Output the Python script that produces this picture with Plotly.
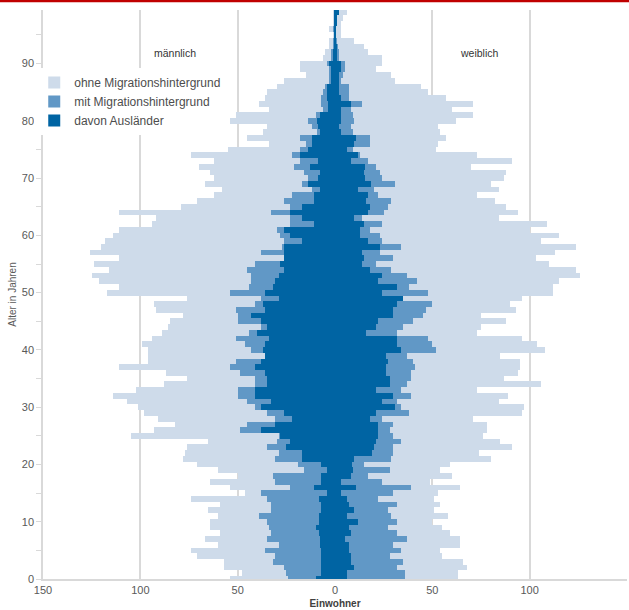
import plotly.graph_objects as go

# ---- data ----
alter = list(range(100))

# Männer: total extent (ohne + mit), mit Migrationshintergrund, davon Ausländer
m_gesamt = [54, 48, 57, 57, 71, 74, 60, 67, 59, 64,
            64, 60, 65, 59, 74, 46, 54, 64, 50, 60,
            71, 78, 77, 76, 65, 105, 93, 82, 91, 98,
            101, 107, 114, 102, 88, 76, 87, 111, 96, 96,
            96, 99, 94, 89, 86, 85, 78, 92, 93, 76,
            117, 111, 121, 125, 116, 124, 111, 126, 120, 118,
            114, 111, 94, 92, 111, 79, 71, 62, 58, 67,
            62, 64, 70, 62, 74, 55, 34, 45, 37, 35,
            54, 51, 34, 39, 36, 35, 30, 26, 15, 18,
            18, 6, 5, 3, 3, 1, 3, 1, 1, 1]
m_mit = [24, 25, 26, 32, 31, 36, 29, 35, 33, 34,
         35, 39, 33, 33, 35, 38, 23, 31, 32, 16,
         19, 31, 29, 35, 30, 29, 49, 45, 31, 35,
         41, 45, 50, 50, 41, 41, 49, 54, 51, 36,
         43, 46, 51, 44, 38, 50, 50, 51, 41, 38,
         54, 44, 43, 43, 45, 41, 26, 38, 27, 26,
         28, 30, 23, 23, 33, 23, 26, 22, 12, 17,
         14, 16, 21, 18, 22, 18, 15, 18, 9, 12,
         14, 10, 6, 7, 7, 6, 5, 3, 3, 3,
         4, 2, 2, 1, 1, 0.5, 1, 0.5, 0.5, 0.5]
m_ausl = [10, 7, 7, 7, 7, 7, 7.5, 7.5, 8, 10,
          8, 8, 7, 7, 8, 4, 11, 7, 7, 4,
          7, 17, 17, 25, 23, 28, 38, 31, 22, 26,
          38, 33, 41, 41, 35, 35, 36, 41, 38, 36,
          37, 36, 34, 40, 35, 38, 43, 36, 37, 29,
          36, 32, 31, 29, 26, 28, 26, 26, 26, 17,
          23, 26, 11, 17, 23, 17, 11, 11, 7.5, 14,
          8.5, 7.5, 12.7, 8.5, 18, 14, 12, 12, 7.5, 8.5,
          9.5, 7.5, 3.7, 3.7, 4, 4, 4, 2, 2, 2,
          3, 1, 1, 0.5, 0.5, 0.3, 0.5, 0.5, 0.5, 0.5]

# Frauen
w_gesamt = [63, 63, 68, 66, 55, 54, 64, 64, 59, 55,
            50, 58, 51, 54, 51, 53, 64, 49, 60, 54,
            59, 80, 74, 91, 85, 76, 78, 78, 71, 96,
            97, 84, 89, 73, 106, 87, 94, 95, 95, 85,
            108, 104, 96, 73, 75, 88, 75, 93, 90, 96,
            112, 112, 115, 126, 124, 110, 103, 113, 124, 106,
            115, 100, 109, 84, 94, 88, 82, 73, 84, 80,
            87, 88, 70, 91, 73, 52, 53, 57, 54, 53,
            62, 71, 60, 71, 57, 48, 44, 31, 29, 21,
            24, 24, 17, 15, 10, 3, 3, 3, 4, 6]
w_mit = [36, 36, 32, 35, 28, 34, 30, 37, 32, 27,
         32, 29, 27, 32, 22, 30, 39, 24, 17, 28,
         15, 29, 30, 30, 34, 30, 28, 30, 24, 38,
         34, 32, 39, 34, 37, 39, 39, 41, 40, 37,
         52, 50, 48, 32, 35, 40, 45, 47, 50, 34,
         48, 38, 42, 37, 29, 21, 30, 23, 34, 24,
         23, 18, 24, 14, 25, 27, 29, 22, 20, 31,
         24, 23, 21, 17, 13, 9, 18, 18, 9, 8,
         10, 9, 8, 14, 7, 7, 7, 3, 4, 5,
         5, 2, 2, 1.5, 1, 0.5, 0.5, 1, 1, 2]
w_ausl = [6, 6, 10, 8, 8, 7, 7, 5, 8, 7,
          12, 6, 10, 7, 6, 3, 11, 3, 8, 9,
          8.5, 10, 19, 20, 21, 22, 22, 22, 18, 21,
          31, 24, 30, 21, 28, 28, 26, 26, 27, 26,
          34, 32, 32, 16, 21, 22, 30, 30, 32, 35,
          24, 32, 22, 24, 18, 14, 15, 14, 23, 17,
          13, 13, 15, 10, 17, 18, 16, 17, 12, 18.5,
          15.6, 14.7, 15.6, 8, 12, 6, 10, 11, 3, 2,
          3, 3, 3, 8, 3, 2, 2, 2, 2, 3,
          3, 1, 1, 1, 0.5, 0.3, 0.3, 1, 1, 2]

x_tickvals = [-150, -100, -50, 0, 50, 100, 150]
x_ticktext = ["150", "100", "50", "0", "50", "100", "150"]
y_tickvals = [0, 10, 20, 30, 40, 50, 60, 70, 80, 90]

HELL = "#cedbea"
MITTEL = "#6198c6"
DUNKEL = "#0064a3"

# ohne Migrationshintergrund = stacked outside the "mit" part
m_ohne = [g - m for g, m in zip(m_gesamt, m_mit)]
w_ohne = [g - m for g, m in zip(w_gesamt, w_mit)]

fig = go.Figure()
common = dict(orientation="h", width=1, marker_line_width=0, hoverinfo="skip")

fig.add_trace(go.Bar(y=alter, x=[-v for v in m_ohne], base=[-v for v in m_mit],
                     marker_color=HELL, name="ohne Migrationshintergrund",
                     legendgroup="ohne", **common))
fig.add_trace(go.Bar(y=alter, x=w_ohne, base=w_mit, marker_color=HELL,
                     name="ohne Migrationshintergrund", legendgroup="ohne",
                     showlegend=False, **common))
fig.add_trace(go.Bar(y=alter, x=[-v for v in m_mit], marker_color=MITTEL,
                     name="mit Migrationshintergrund", legendgroup="mit", **common))
fig.add_trace(go.Bar(y=alter, x=w_mit, marker_color=MITTEL,
                     name="mit Migrationshintergrund", legendgroup="mit",
                     showlegend=False, **common))
fig.add_trace(go.Bar(y=alter, x=[-v for v in m_ausl], marker_color=DUNKEL,
                     name="davon Ausländer", legendgroup="ausl", **common))
fig.add_trace(go.Bar(y=alter, x=w_ausl, marker_color=DUNKEL,
                     name="davon Ausländer", legendgroup="ausl",
                     showlegend=False, **common))

FONT = "Liberation Sans, Arial, sans-serif"
GRID = "#d9d9d9"

fig.update_layout(
    width=629, height=610,
    margin=dict(l=43, r=2, t=10, b=31),
    paper_bgcolor="white", plot_bgcolor="white",
    barmode="overlay", bargap=0,
    font=dict(family=FONT, size=11, color="#595959"),
    showlegend=True,
    legend=dict(x=-0.015, y=0.898, xanchor="left", yanchor="top",
                bgcolor="white", font=dict(size=12, color="#4d4d4d"),
                itemwidth=30, tracegroupgap=0, traceorder="normal"),
    xaxis=dict(range=[-150, 150], tickvals=x_tickvals, ticktext=x_ticktext,
               showgrid=True, gridcolor=GRID, gridwidth=1.5, zeroline=False,
               showline=True, linecolor=GRID, linewidth=1.5, ticks="",
               tickfont=dict(size=11, color="#595959"),
               title=dict(text="<b>Einwohner</b>", font=dict(size=10, color="#404040"),
                          standoff=5)),
    yaxis=dict(range=[0, 99.35], tickvals=y_tickvals, showgrid=False, zeroline=False,
               showline=True, linecolor=GRID, linewidth=1.5,
               ticks="outside", ticklen=5, tickcolor=GRID, tickwidth=1,
               minor=dict(dtick=5, ticks="outside", ticklen=5, tickcolor=GRID),
               tickfont=dict(size=11, color="#595959"),
               title=dict(text="Alter in Jahren", font=dict(size=10, color="#595959"),
                          standoff=3)),
    annotations=[
        dict(x=-82, y=91.8, xref="x", yref="y", text="männlich", showarrow=False,
             font=dict(size=10.5, color="#333333", family=FONT)),
        dict(x=74, y=91.8, xref="x", yref="y", text="weiblich", showarrow=False,
             font=dict(size=10.5, color="#333333", family=FONT)),
    ],
    shapes=[dict(type="line", xref="paper", yref="paper", x0=-0.08, x1=1.01,
                 y0=1.0158, y1=1.0158, line=dict(color="#c00000", width=2.5))],
)

fig.write_html(
    "out.html",
    config={"displayModeBar": False},
    post_script="document.body.style.margin='0';document.body.style.overflow='hidden';",
)
